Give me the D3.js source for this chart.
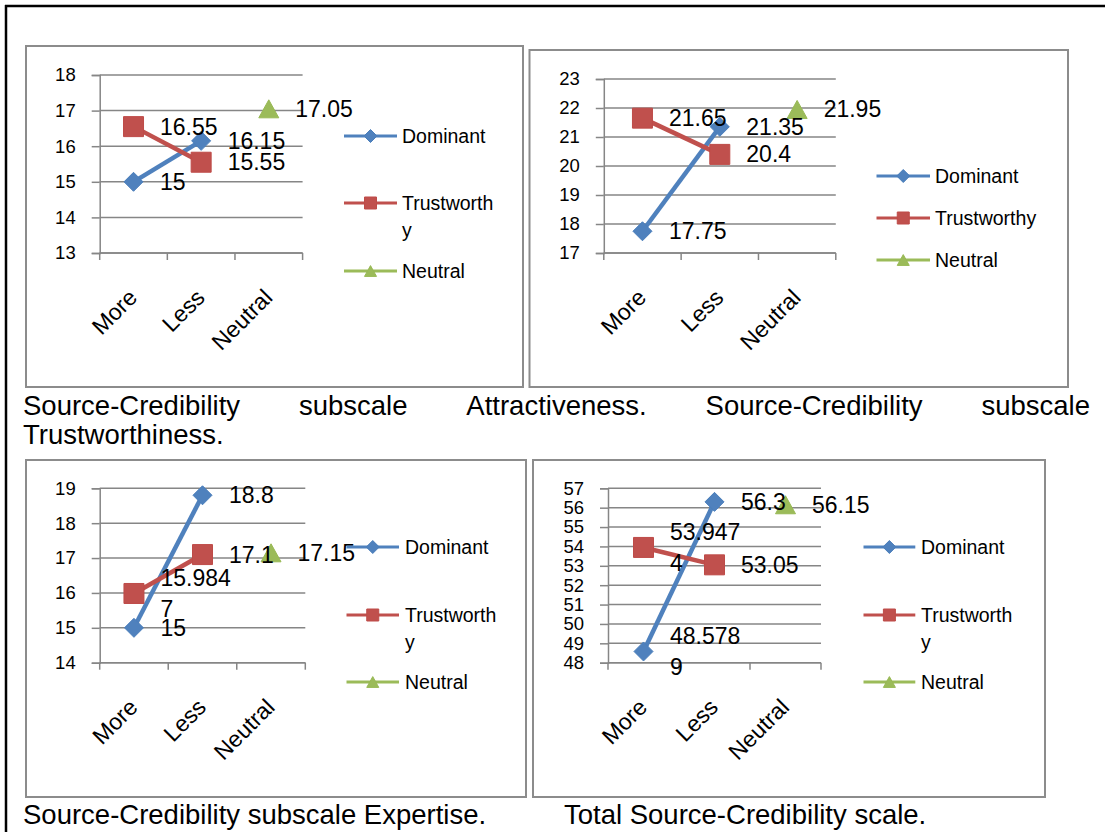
<!DOCTYPE html>
<html>
<head>
<meta charset="utf-8">
<script src="https://cdn.jsdelivr.net/npm/d3@7"></script>
<style>
  html, body { margin: 0; padding: 0; background: #fff; }
  svg { display: block; font-family: "Liberation Sans", Arial, sans-serif; }
</style>
</head>
<body>
<svg id="chart" width="1105" height="832"></svg>
<script>
// Categories and series shared by all four charts
const categories = ["More", "Less", "Neutral"];
const seriesNames = ["Dominant", "Trustworthy", "Neutral"];

// Source-Credibility subscale Attractiveness
const attractivenessDominant = [15, 16.15, null];
const attractivenessTrustworthy = [16.55, 15.55, null];
const attractivenessNeutral = [null, null, 17.05];
const attractivenessTicks = [13, 14, 15, 16, 17, 18];

// Source-Credibility subscale Trustworthiness
const trustworthinessDominant = [17.75, 21.35, null];
const trustworthinessTrustworthy = [21.65, 20.4, null];
const trustworthinessNeutral = [null, null, 21.95];
const trustworthinessTicks = [17, 18, 19, 20, 21, 22, 23];

// Source-Credibility subscale Expertise
const expertiseDominant = [15, 18.8, null];
const expertiseTrustworthy = [15.9847, 17.1, null];
const expertiseNeutral = [null, null, 17.15];
const expertiseTicks = [14, 15, 16, 17, 18, 19];

// Total Source-Credibility scale
const totalDominant = [48.5789, 56.3, null];
const totalTrustworthy = [53.9474, 53.05, null];
const totalNeutral = [null, null, 56.15];
const totalTicks = [48, 49, 50, 51, 52, 53, 54, 55, 56, 57];

const colors = ["#4F81BD", "#C0504D", "#9BBB59"];
const strokes = ["#4A7EBB", "#BE4B48", "#98B954"];
const gridColor = "#868686";

const svg = d3.select("#chart");

// Outer frame (top and left rules)
svg.append("line").attr("x1", 5).attr("x2", 1105).attr("y1", 6).attr("y2", 6)
  .attr("stroke", "#000").attr("stroke-width", 2.5);
svg.append("line").attr("x1", 6).attr("x2", 6).attr("y1", 5).attr("y2", 832)
  .attr("stroke", "#000").attr("stroke-width", 2.5);

function markerPath(kind, s) {
  // s = half size
  if (kind === 0) return `M0,${-s}L${s},0L0,${s}L${-s},0Z`;
  if (kind === 1) return `M${-s},${-s}H${s}V${s}H${-s}Z`;
  const h = s * 0.9;
  return `M0,${-h}L${s},${h}L${-s},${h}Z`;
}

function drawPanel(cfg, series, ticks) {
  const g = svg.append("g");

  // Chart-area border
  g.append("rect")
    .attr("x", cfg.box[0]).attr("y", cfg.box[1])
    .attr("width", cfg.box[2] - cfg.box[0]).attr("height", cfg.box[3] - cfg.box[1])
    .attr("fill", "#fff").attr("stroke", "#8C8C8C").attr("stroke-width", 2);

  const y = d3.scaleLinear().domain(d3.extent(ticks)).range([cfg.bottom, cfg.top]);
  const x = d3.scaleBand().domain(categories).range([cfg.left, cfg.right]).paddingInner(0).paddingOuter(0);
  const cx = c => x(c) + x.bandwidth() / 2;

  // Horizontal gridlines
  g.append("g").selectAll("line").data(ticks).join("line")
    .attr("x1", cfg.left).attr("x2", cfg.right)
    .attr("y1", d => y(d)).attr("y2", d => y(d))
    .attr("stroke", gridColor).attr("stroke-width", 1.5);

  // Value axis
  const yAxis = g.append("g").attr("transform", `translate(${cfg.left},0)`)
    .call(d3.axisLeft(y).tickValues(ticks).tickSize(8).tickPadding(16).tickFormat(d3.format("d")));
  yAxis.select(".domain").attr("stroke", gridColor).attr("stroke-width", 1.5);
  yAxis.selectAll(".tick line").attr("stroke", gridColor).attr("stroke-width", 1.5);
  yAxis.selectAll(".tick text").attr("font-size", 18.5).attr("fill", "#000")
    .attr("font-family", "Liberation Sans, Arial, sans-serif");

  // Category axis: line, boundary ticks and rotated labels
  const xAxis = g.append("g").attr("transform", `translate(0,${cfg.bottom})`);
  xAxis.append("line").attr("x1", cfg.left).attr("x2", cfg.right)
    .attr("stroke", gridColor).attr("stroke-width", 1.5);
  const bounds = categories.map(c => x(c)).concat([cfg.right]);
  xAxis.selectAll("line.tk").data(bounds).join("line").attr("class", "tk")
    .attr("x1", d => d).attr("x2", d => d).attr("y1", 0).attr("y2", 7)
    .attr("stroke", gridColor).attr("stroke-width", 1.5);
  xAxis.selectAll("text").data(categories).join("text")
    .attr("transform", d => `translate(${cx(d) + 5},46) rotate(-45)`)
    .attr("text-anchor", "end").attr("font-size", 23).attr("fill", "#000")
    .text(d => d);

  // Lines, then markers, series in order
  const line = d3.line().defined(d => d.v != null).x(d => cx(d.c)).y(d => y(d.v));
  series.forEach((vals, i) => {
    const pts = vals.map((v, j) => ({ c: categories[j], v }));
    g.append("path").datum(pts).attr("d", line)
      .attr("fill", "none").attr("stroke", colors[i]).attr("stroke-width", 4.5)
      .attr("stroke-linejoin", "round");
    g.append("g").selectAll("path").data(pts.filter(d => d.v != null)).join("path")
      .attr("transform", d => `translate(${cx(d.c)},${y(d.v)})`)
      .attr("d", markerPath(i, i === 0 ? 9.5 : 10))
      .attr("fill", colors[i]).attr("stroke", strokes[i]).attr("stroke-width", 1);
  });

  // Data labels to the right of each point
  series.forEach(vals => {
    vals.forEach((v, j) => {
      if (v == null) return;
      const s = String(v);
      const parts = s.length > 6 ? [s.slice(0, 6), s.slice(6)] : [s];
      const t = g.append("text")
        .attr("x", cx(categories[j]) + 26.5).attr("y", y(v))
        .attr("font-size", 23).attr("fill", "#000").attr("dominant-baseline", "central");
      if (parts.length === 1) {
        t.text(s);
      } else {
        t.append("tspan").attr("x", cx(categories[j]) + 26.5).attr("y", y(v) - 15.5).text(parts[0]);
        t.append("tspan").attr("x", cx(categories[j]) + 26.5).attr("y", y(v) + 15.5).text(parts[1]);
      }
    });
  });

  // Legend
  const lg = cfg.legend;
  seriesNames.forEach((name, i) => {
    const ly = lg.ys[i];
    g.append("line").attr("x1", lg.x0).attr("x2", lg.x1).attr("y1", ly).attr("y2", ly)
      .attr("stroke", colors[i]).attr("stroke-width", 3);
    g.append("path").attr("transform", `translate(${(lg.x0 + lg.x1) / 2},${ly})`)
      .attr("d", markerPath(i, i === 0 ? 6.5 : 6))
      .attr("fill", colors[i]).attr("stroke", strokes[i]).attr("stroke-width", 1);
    const lines = (lg.wrap && name.length > 10) ? [name.slice(0, 10), name.slice(10)] : [name];
    lines.forEach((txt, k) => {
      g.append("text").attr("x", lg.textX).attr("y", ly + k * 27)
        .attr("font-size", 19.5).attr("fill", "#000").attr("dominant-baseline", "central")
        .text(txt);
    });
  });
}

drawPanel({
  box: [26, 46, 523, 387], left: 99.7, right: 302.6, top: 75, bottom: 253,
  legend: { x0: 344, x1: 397, textX: 402, ys: [136, 203, 271], wrap: true }
}, [attractivenessDominant, attractivenessTrustworthy, attractivenessNeutral], attractivenessTicks);

drawPanel({
  box: [529.5, 50, 1068, 387], left: 603.8, right: 835.8, top: 79, bottom: 253,
  legend: { x0: 876.5, x1: 930, textX: 935, ys: [176, 218, 260], wrap: false }
}, [trustworthinessDominant, trustworthinessTrustworthy, trustworthinessNeutral], trustworthinessTicks);

drawPanel({
  box: [26, 460, 526, 797], left: 99.7, right: 305.3, top: 488.3, bottom: 662.7,
  legend: { x0: 346.5, x1: 399, textX: 405, ys: [547, 615, 682], wrap: true }
}, [expertiseDominant, expertiseTrustworthy, expertiseNeutral], expertiseTicks);

drawPanel({
  box: [533, 460, 1045, 797], left: 608, right: 821, top: 488.3, bottom: 662.7,
  legend: { x0: 863.5, x1: 915.3, textX: 921, ys: [547, 615, 682], wrap: true }
}, [totalDominant, totalTrustworthy, totalNeutral], totalTicks);

// Captions
const captionSize = 27.5;
const firstLineWords = ["Source-Credibility", "subscale", "Attractiveness.", "Source-Credibility", "subscale"];
const lineStart = 23, lineEnd = 1090;
const words = firstLineWords.map(w => svg.append("text").attr("y", 415)
  .attr("font-size", captionSize).attr("fill", "#000").text(w));
const widths = words.map(t => t.node().getComputedTextLength());
const gap = (lineEnd - lineStart - d3.sum(widths)) / (words.length - 1);
let cursor = lineStart;
words.forEach((t, i) => { t.attr("x", cursor); cursor += widths[i] + gap; });

svg.append("text").attr("x", 23).attr("y", 444).attr("font-size", captionSize)
  .attr("fill", "#000").text("Trustworthiness.");
svg.append("text").attr("x", 23).attr("y", 824).attr("font-size", captionSize)
  .attr("fill", "#000").text("Source-Credibility subscale Expertise.");
svg.append("text").attr("x", 564).attr("y", 824).attr("font-size", captionSize)
  .attr("fill", "#000").text("Total Source-Credibility scale.");
</script>
</body>
</html>
